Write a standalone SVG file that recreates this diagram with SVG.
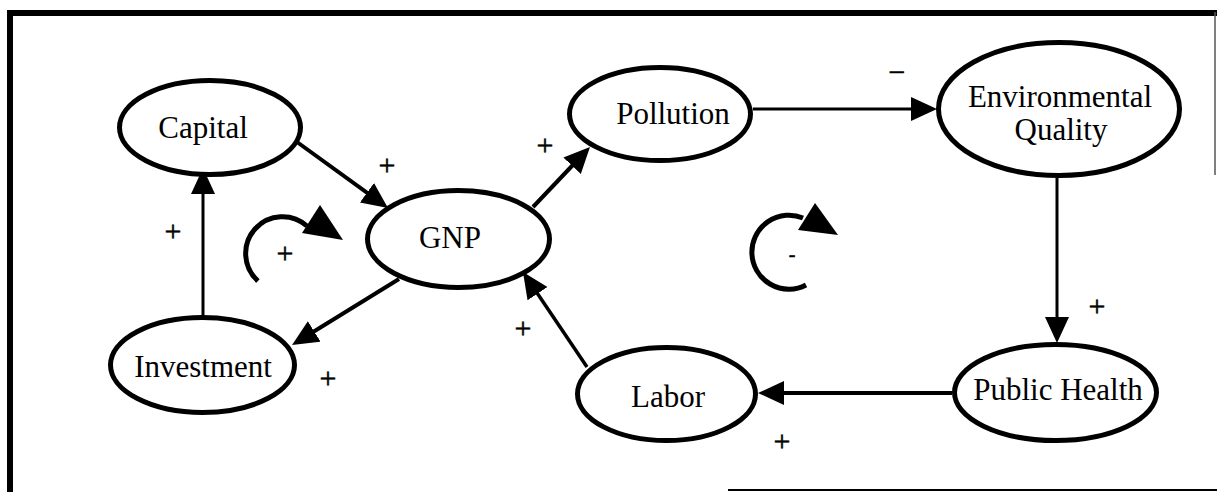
<svg xmlns="http://www.w3.org/2000/svg" width="1217" height="492" viewBox="0 0 1217 492">
<style>
.node{fill:#fff;stroke:#000;stroke-width:5}
.lbl{font-family:"Liberation Serif","Times New Roman",serif;font-size:31px;fill:#000;text-anchor:middle}
.sign{font-family:"Liberation Serif","Times New Roman",serif;font-size:30px;fill:#000;stroke:#000;stroke-width:0.5;text-anchor:middle}
.edge{stroke:#000;fill:none;marker-end:url(#arr)}
.loop{stroke:#000;fill:none;stroke-width:5}
</style>
<defs>
<marker id="arr" markerUnits="userSpaceOnUse" markerWidth="28" markerHeight="26" refX="17" refY="12" orient="auto">
<path d="M0,0 L26,12 L0,24 z" fill="#000"/>
</marker>
</defs>
<rect width="1217" height="492" fill="#fff"/>
<g id="frame" stroke="#000">
<line x1="7" y1="13" x2="1217" y2="13" stroke-width="6"/>
<line x1="10" y1="10" x2="10" y2="492" stroke-width="6"/>
<line x1="1215" y1="12" x2="1215" y2="175" stroke-width="1.5" stroke="#555"/>
<line x1="728" y1="490" x2="1217" y2="490" stroke-width="2"/>
</g>
<g id="connectors">
<line class="edge" x1="297" y1="142" x2="380.7" y2="202.7" stroke-width="4"/>
<line class="edge" x1="203" y1="315" x2="203" y2="177" stroke-width="3"/>
<line class="edge" x1="399" y1="279" x2="299.7" y2="340.3" stroke-width="4"/>
<line class="edge" x1="533" y1="207" x2="583.8" y2="153.5" stroke-width="4"/>
<line class="edge" x1="753" y1="109" x2="928" y2="109" stroke-width="3"/>
<line class="edge" x1="1057" y1="178" x2="1057" y2="334" stroke-width="3"/>
<line class="edge" x1="952" y1="393" x2="767" y2="393" stroke-width="4"/>
<line class="edge" x1="587" y1="367" x2="528" y2="279.5" stroke-width="3.5"/>
</g>
<g id="capital">
<ellipse class="node" cx="210" cy="127.5" rx="90.5" ry="47"/>
<text class="lbl" x="203" y="138">Capital</text>
</g>
<g id="gnp">
<ellipse class="node" cx="458.5" cy="239" rx="91" ry="48.5"/>
<text class="lbl" x="450" y="248">GNP</text>
</g>
<g id="pollution">
<ellipse class="node" cx="660" cy="114" rx="90.5" ry="46.5"/>
<text class="lbl" x="673" y="124">Pollution</text>
</g>
<g id="environmental-quality">
<ellipse class="node" cx="1059" cy="109" rx="120.5" ry="66.5"/>
<text class="lbl" x="1060" y="107">Environmental</text>
<text class="lbl" x="1061" y="140">Quality</text>
</g>
<g id="investment">
<ellipse class="node" cx="202.5" cy="365" rx="92" ry="47.5"/>
<text class="lbl" x="203" y="377">Investment</text>
</g>
<g id="labor">
<ellipse class="node" cx="666.5" cy="394" rx="89" ry="46.5"/>
<text class="lbl" x="668" y="407">Labor</text>
</g>
<g id="public-health">
<ellipse class="node" cx="1055.5" cy="392.5" rx="101" ry="48"/>
<text class="lbl" x="1058" y="400">Public Health</text>
</g>
<g id="loop-positive">
<path class="loop" d="M258,281 A36,36 0 1,1 307,226"/>
<polygon points="320,205 343,240 302,233" fill="#000"/>
<text class="sign" x="285" y="263">+</text>
</g>
<g id="loop-negative">
<path class="loop" d="M806,285 A37,37 0 1,1 803,218"/>
<polygon points="815,203 838,235 798,230" fill="#000"/>
<text class="sign" x="792" y="261" style="font-size:20px">-</text>
</g>
<g id="signs">
<text class="sign" x="173" y="241">+</text>
<text class="sign" x="387" y="175">+</text>
<text class="sign" x="328" y="388">+</text>
<text class="sign" x="545" y="155">+</text>
<text class="sign" x="897" y="82">−</text>
<text class="sign" x="1097" y="316">+</text>
<text class="sign" x="523" y="338">+</text>
<text class="sign" x="782" y="451">+</text>
</g>
</svg>
